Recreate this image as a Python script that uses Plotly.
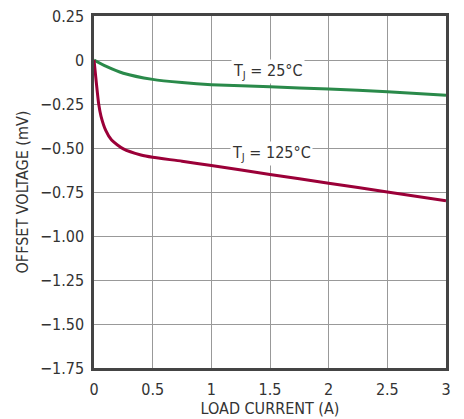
import plotly.graph_objects as go

# Data
x_25 = [0, 0.1, 0.25, 0.5, 0.75, 1.0, 1.5, 2.0, 2.5, 3.0]
y_25 = [0, -0.035, -0.075, -0.11, -0.128, -0.14, -0.152, -0.165, -0.18, -0.2]

x_125 = [0, 0.02, 0.04, 0.06, 0.1, 0.15, 0.25, 0.4, 0.5, 0.75, 1.0, 1.5, 2.0, 2.5, 3.0]
y_125 = [0, -0.13, -0.25, -0.32, -0.40, -0.455, -0.505, -0.54, -0.553, -0.575, -0.60, -0.65, -0.70, -0.75, -0.80]

x_ticks = [0, 0.5, 1, 1.5, 2, 2.5, 3]
x_ticktext = ["0", "0.5", "1", "1.5", "2", "2.5", "3"]
y_ticks = [0.25, 0, -0.25, -0.5, -0.75, -1.0, -1.25, -1.5, -1.75]
y_ticktext = ["0.25", "0", "\u22120.25", "\u22120.50", "\u22120.75", "\u22121.00", "\u22121.25", "\u22121.50", "\u22121.75"]

labels = ["T<sub>J</sub> = 25°C", "T<sub>J</sub> = 125°C"]
label_x = [1.48, 1.515]
label_y = [-0.065, -0.53]

FONT = "DejaVu Sans Condensed, Roboto, sans-serif"

fig = go.Figure()
fig.add_trace(go.Scatter(x=x_25, y=y_25, mode="lines", line=dict(color="#2a8a4a", width=3, shape="spline", smoothing=0.6), showlegend=False))
fig.add_trace(go.Scatter(x=x_125, y=y_125, mode="lines", line=dict(color="#9b0038", width=3, shape="spline", smoothing=0.6), showlegend=False))

for t, lx, ly in zip(labels, label_x, label_y):
    fig.add_annotation(x=lx, y=ly, text=t, showarrow=False, bgcolor="white",
                       font=dict(family=FONT, size=16, color="#333333"), borderpad=1)

# page body has an 8px default margin; figure sized to fill the 464x419 window
fig.update_layout(
    width=456, height=411,
    margin=dict(l=86, r=18, t=8, b=51, autoexpand=False),
    paper_bgcolor="white", plot_bgcolor="white",
    font=dict(family=FONT, size=16, color="#333333"),
)
fig.update_xaxes(range=[0, 3], tickvals=x_ticks, ticktext=x_ticktext, automargin=False,
                 showgrid=True, gridcolor="#999999", gridwidth=1.3,
                 showline=True, linecolor="#444444", linewidth=2.5, mirror=True,
                 ticks="", zeroline=False, ticklabelstandoff=5, ticklabeloverflow="allow",
                 title=dict(text="LOAD CURRENT (A)", font=dict(size=16), standoff=2))
fig.update_yaxes(range=[-1.75, 0.25], tickvals=y_ticks, ticktext=y_ticktext, automargin=False,
                 showgrid=True, gridcolor="#999999", gridwidth=1.3,
                 showline=True, linecolor="#444444", linewidth=2.5, mirror=True,
                 ticks="", zeroline=False, ticklabelstandoff=4, ticklabeloverflow="allow",
                 title=dict(text="OFFSET VOLTAGE (mV)", font=dict(size=16), standoff=8))

fig.write_html("out.html")
